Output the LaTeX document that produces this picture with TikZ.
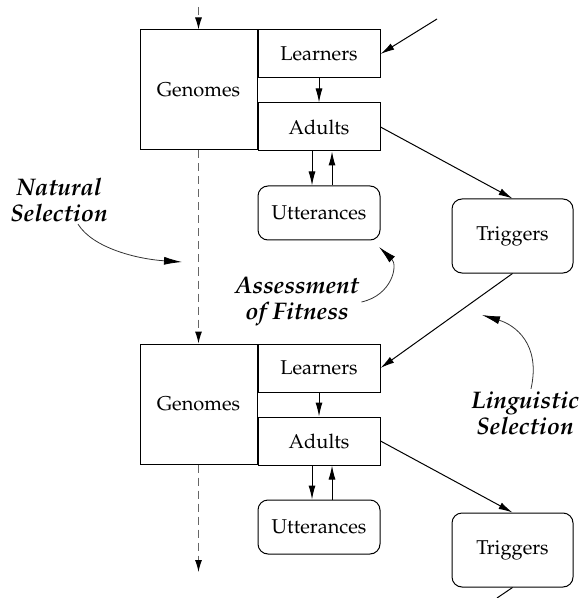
\documentclass[tikz,border=0pt]{standalone}
\usepackage[T1]{fontenc}
\renewcommand{\rmdefault}{ppl}
\usetikzlibrary{positioning, arrows.meta}
\tikzset{
    box/.style={draw, minimum width=61pt, minimum height=24pt, inner sep=0pt}, % riquadri
    genome/.style={box, minimum width=58.5pt, minimum height=60pt}, % riquadro dei genomi
    roundbox/.style={box, rounded corners=5pt}, % riquadri arrotondati
    remark/.style={font=\fontsize{12}{13}\selectfont\bfseries\itshape, align=center, inner sep=1pt},
}
\tikzstyle{arrow} = [-{Latex[length=7pt, width=3.5pt]}]
\tikzstyle{flow} = [-{Latex[length=6pt, width=3.5pt, black]}, draw=black!60, dash pattern=on 4pt off 2.5pt]
\tikzstyle{pointer} = [-{Latex[length=9pt, width=4pt, black]}, draw=black!80, line width=0.4pt]

\begin{document}
\begin{tikzpicture}[x=0.5pt, y=-0.5pt, node distance=12pt, line width=0.5pt]
    \useasboundingbox (0,0) rectangle (582,598);

    % Prima generazione
    \node[genome] (g1) at (198.5,90) {Genomes};
    \node[box, anchor=north west] (l1) at (g1.north east) {Learners};
    \node[box] (a1) [below=of l1] {Adults};
    \node[roundbox, minimum height=27pt] (u1) [below=17pt of a1] {Utterances};
    \node[roundbox, minimum width=60.5pt, minimum height=37pt] (t1) at (512.5,236) {Triggers};

    % Seconda generazione
    \node[genome] (g2) at (198.5,404) {Genomes};
    \node[box, anchor=north west] (l2) at (g2.north east) {Learners};
    \node[box] (a2) [below=of l2] {Adults};
    \node[roundbox, minimum height=27pt] (u2) [below=17pt of a2] {Utterances};
    \node[roundbox, minimum width=60.5pt, minimum height=37pt] (t2) at (512.5,550) {Triggers};

    % Etichette
    \node[remark] (nat) at (59,200) {Natural\\Selection};
    \node[remark] (fit) at (297,302) {Assessment\\of Fitness};
    \node[remark] (ling) at (525,413) {Linguistic\\Selection};

    % Estremi liberi
    \coordinate (top) at (198.5,7);
    \coordinate (bot) at (198.5,572);
    \coordinate (in1) at (437,19);
    \coordinate (out2) at (497,598);
    \coordinate (natTip) at (182,262);
    \coordinate (fitTip) at (379,247);
    \coordinate (lingTip) at (482,315);

    % Transizioni
    \draw[flow] (top) -- (g1);
    \draw[flow] (g1) -- (g2);
    \draw[flow] (g2) -- (bot);

    \draw[arrow] (in1) -- (l1.east);
    \draw[arrow] (l1) -- (a1);
    \draw[arrow] ([xshift=-3.5pt]a1.south) -- ([xshift=-3.5pt]u1.north);
    \draw[arrow] ([xshift=6.5pt]u1.north) -- ([xshift=6.5pt]a1.south);
    \draw[arrow] (a1.east) -- (t1.north);
    \draw[arrow] (t1.south) -- (l2.east);

    \draw[arrow] (l2) -- (a2);
    \draw[arrow] ([xshift=-3.5pt]a2.south) -- ([xshift=-3.5pt]u2.north);
    \draw[arrow] ([xshift=6.5pt]u2.north) -- ([xshift=6.5pt]a2.south);
    \draw[arrow] (a2.east) -- (t2.north);
    \draw (t2.south) -- (out2);

    % Selezione
    \draw[pointer] ([xshift=9.5pt]nat.south) .. controls +(15,24) and +(-45,-3) .. (natTip);
    \draw[pointer] (fit.east) .. controls +(31,-7) and +(19,18) .. (fitTip);
    \draw[pointer] ([xshift=3pt]ling.north) .. controls +(10,-45) and +(33,10) .. (lingTip);
\end{tikzpicture}
\end{document}
